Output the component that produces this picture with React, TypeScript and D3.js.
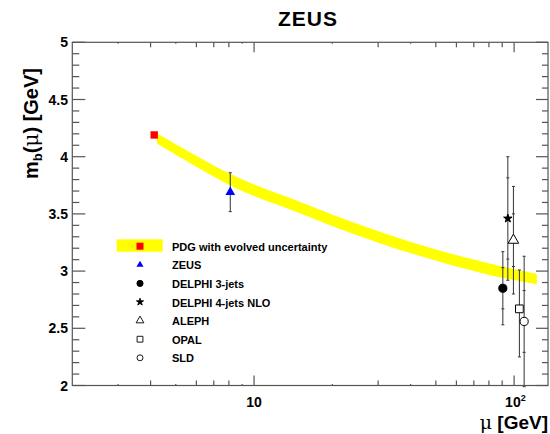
import React from "react";
import * as d3 from "d3";

// PDG band (running b mass, evolved)
const bandMu = [4.23, 8.09, 12.96, 23.4, 42.2, 76.2, 122.3];
const bandMb = [4.16, 3.8, 3.61, 3.385, 3.19, 3.03, 2.93];
const bandErr = [0.045, 0.05, 0.05, 0.05, 0.05, 0.05, 0.045];

const pdgMu = 4.13;
const pdgMb = 4.19;

// measurements
const expNames = ["ZEUS", "DELPHI 3-jets", "DELPHI 4-jets NLO", "ALEPH", "OPAL", "SLD"];
const expMu = [8.1, 90.5, 94.6, 99.4, 104.8, 109.3];
const expMb = [3.69, 2.85, 3.46, 3.27, 2.67, 2.56];
const expStat = [0, 0.18, 0.355, 0.23, 0, 0.27];
const expTotUp = [0.17, 0.32, 0.54, 0.47, 0.34, 0.57];
const expTotDown = [0.17, 0.32, 0.54, 0.47, 0.42, 0.57];

const legendLabels = ["PDG with evolved uncertainty", ...expNames];

const yTicks = [2, 2.5, 3, 3.5, 4, 4.5, 5];
const xMajor = [10, 100];
const xTiny = [3, 5, 9, 20, 40];

const W = 550;
const H = 434;
const m = { left: 72.3, right: 548, top: 42.3, bottom: 385.5 };

const font = "'Liberation Sans', Arial, Helvetica, sans-serif";

const App = () => {
  const x = d3.scaleLog().domain([2, 135]).range([m.left, m.right]);
  const y = d3.scaleLinear().domain([2, 5]).range([m.bottom, m.top]);

  const band = bandMu.map((mu, i) => ({ mu, mb: bandMb[i], e: bandErr[i] }));
  const area = d3
    .area<any>()
    .x((d) => x(d.mu))
    .y0((d) => y(d.mb - d.e))
    .y1((d) => y(d.mb + d.e))
    .curve(d3.curveNatural);

  const yMinor = d3.range(20, 51).map((v) => v / 10).filter((v) => !yTicks.some((t) => Math.abs(t - v) < 1e-6));
  const xMinor: number[] = [];
  [1, 10, 100].forEach((dec) => {
    for (let k = 2; k <= 9; k++) {
      const v = k * dec;
      if (v > 2 && v < 135) xMinor.push(v);
    }
  });

  const sym = (type: any, size: number) => d3.symbol().type(type).size(size)() as string;
  const shapes = [d3.symbolTriangle, d3.symbolCircle, d3.symbolStar, d3.symbolTriangle, d3.symbolSquare, d3.symbolCircle];
  const fills = ["#0000ff", "#000", "#000", "none", "none", "none"];
  const plotSizes = [40, 52, 22, 48, 60, 52];
  const legSizes = [22, 30, 16, 26, 34, 28];

  const axisColor = "#555";
  const legRow = (i: number) => 246.7 + i * 18.6;

  return (
    <svg width={W} height={H} style={{ position: "absolute", left: 0, top: 0, background: "#fff" }}>
      <rect width={W} height={H} fill="#fff" />
      {/* title */}
      <text x={308} y={26} textAnchor="middle" fontFamily={font} fontWeight="bold" fontSize={21} letterSpacing={1}>
        ZEUS
      </text>

      {/* band */}
      <path d={area(band) as string} fill="#ffff00" />
      {/* PDG point */}
      <rect x={x(pdgMu) - 3.7} y={y(pdgMb) - 3.7} width={7.4} height={7.4} fill="#ff0000" />

      {/* error bars and points */}
      {expNames.map((name, i) => {
        const cx = x(expMu[i]);
        const cy = y(expMb[i]);
        const top = y(expMb[i] + expTotUp[i]);
        const bot = y(expMb[i] - expTotDown[i]);
        const s1 = y(expMb[i] + expStat[i]);
        const s2 = y(expMb[i] - expStat[i]);
        return (
          <g key={name} stroke="#333" strokeWidth={1}>
            <line x1={cx} x2={cx} y1={top} y2={bot} />
            <line x1={cx - 1.5} x2={cx + 1.5} y1={top} y2={top} />
            <line x1={cx - 1.5} x2={cx + 1.5} y1={bot} y2={bot} />
            {expStat[i] > 0 && (
              <>
                <line x1={cx - 1.5} x2={cx + 1.5} y1={s1} y2={s1} />
                <line x1={cx - 1.5} x2={cx + 1.5} y1={s2} y2={s2} />
              </>
            )}
            <path
              d={sym(shapes[i], plotSizes[i])}
              transform={`translate(${cx},${cy})`}
              fill={fills[i] === "none" ? "#fff" : fills[i]}
              stroke={fills[i] === "#0000ff" ? "none" : "#000"}
              strokeWidth={1}
            />
          </g>
        );
      })}

      {/* frame */}
      <rect x={m.left} y={m.top} width={m.right - m.left} height={m.bottom - m.top} fill="none" stroke={axisColor} strokeWidth={1.2} />

      {/* y ticks, left and right */}
      {yTicks.map((t) => (
        <g key={"y" + t} stroke={axisColor} strokeWidth={1.2}>
          <line x1={m.left} x2={m.left + 13} y1={y(t)} y2={y(t)} />
          <line x1={m.right} x2={m.right - 12} y1={y(t)} y2={y(t)} />
        </g>
      ))}
      {yMinor.map((t) => (
        <g key={"ym" + t} stroke={axisColor} strokeWidth={1.2}>
          <line x1={m.left} x2={m.left + 7} y1={y(t)} y2={y(t)} />
          <line x1={m.right} x2={m.right - 6} y1={y(t)} y2={y(t)} />
        </g>
      ))}
      {yTicks.map((t) => (
        <text key={"yl" + t} x={68} y={y(t) + 5} textAnchor="end" fontFamily={font} fontWeight="bold" fontSize={14}>
          {t}
        </text>
      ))}

      {/* x ticks, bottom and top */}
      {xMajor.map((t) => (
        <g key={"x" + t} stroke={axisColor} strokeWidth={1.2}>
          <line x1={x(t)} x2={x(t)} y1={m.bottom} y2={m.bottom - 10} />
          <line x1={x(t)} x2={x(t)} y1={m.top} y2={m.top + 10} />
        </g>
      ))}
      {xMinor.map((t) => {
        const len = xTiny.includes(t) ? 1.5 : 5;
        return (
          <g key={"xm" + t} stroke={axisColor} strokeWidth={1.2}>
            <line x1={x(t)} x2={x(t)} y1={m.bottom} y2={m.bottom - len} />
            <line x1={x(t)} x2={x(t)} y1={m.top} y2={m.top + len} />
          </g>
        );
      })}
      <text x={x(10)} y={407} textAnchor="middle" fontFamily={font} fontWeight="bold" fontSize={14}>
        10
      </text>
      <text x={x(100) - 9} y={407} fontFamily={font} fontWeight="bold" fontSize={14}>
        10
        <tspan dy={-6} fontSize={9}>
          2
        </tspan>
      </text>

      {/* axis titles */}
      <text x={548} y={429} textAnchor="end" fontFamily={font} fontWeight="bold" fontSize={19}>
        <tspan fontFamily="'DejaVu Serif', serif" fontWeight="normal">μ</tspan> [GeV]
      </text>
      <text transform="translate(38,68) rotate(-90)" textAnchor="end" fontFamily={font} fontWeight="bold" fontSize={20}>
        m
        <tspan dy={4} fontSize={13}>
          b
        </tspan>
        <tspan dy={-4}>(</tspan>
        <tspan fontFamily="'DejaVu Serif', serif" fontWeight="normal">μ</tspan>
        <tspan>) [GeV]</tspan>
      </text>

      {/* legend */}
      <rect x={116.7} y={239.3} width={46} height={12.4} fill="#ffff00" />
      <rect x={136.5} y={legRow(0) - 4} width={7} height={7} fill="#ff0000" />
      {expNames.map((name, i) => (
        <path
          key={"lg" + name}
          d={sym(shapes[i], legSizes[i])}
          transform={`translate(140,${legRow(i + 1) - 0.5})`}
          fill={fills[i] === "none" ? "#fff" : fills[i]}
          stroke={fills[i] === "#0000ff" ? "none" : "#000"}
          strokeWidth={0.9}
        />
      ))}
      {legendLabels.map((label, i) => (
        <text key={"lt" + i} x={172} y={legRow(i) + 4} fontFamily={font} fontWeight="bold" fontSize={11}>
          {label}
        </text>
      ))}
    </svg>
  );
};

export default App;
